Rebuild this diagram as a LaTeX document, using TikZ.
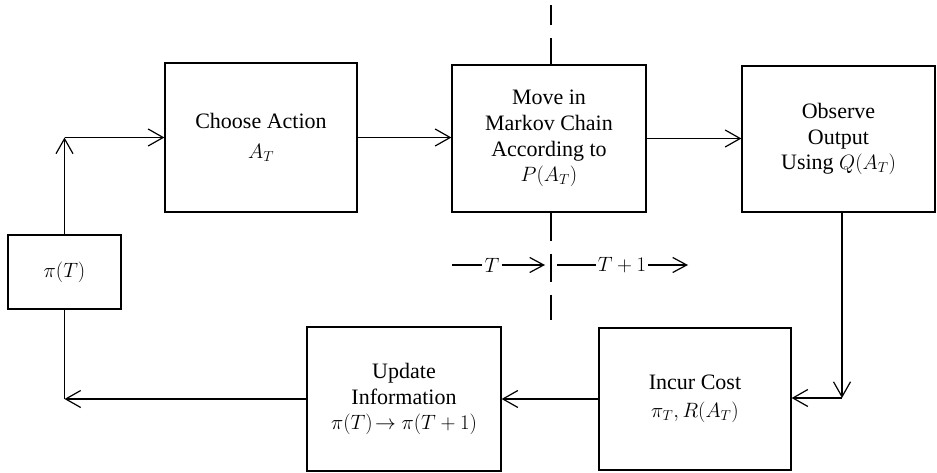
\documentclass[tikz,border=0pt]{standalone}
\usepackage{fontspec}
\setmainfont{Liberation Serif}
\usetikzlibrary{arrows.meta}
\begin{document}
\begin{tikzpicture}[x=1pt,y=-1pt,
  box/.style={draw,line width=1.3pt,align=center,font=\fontsize{22}{25.7}\selectfont,inner sep=0pt},
  con/.style={line width=1.3pt},
  arr/.style={con,-{Straight Barb[length=15pt,width=17pt,line width=1.2pt]}},
  arrs/.style={con,-{Straight Barb[length=14pt,width=15pt,line width=1.2pt]}},
  lbl/.style={font=\fontsize{22}{25}\selectfont,inner sep=2pt}]
\useasboundingbox (0,0) rectangle (937,473);
\node[box,minimum width=192pt,minimum height=149pt] (choose) at (261,137.5) {Choose Action\\[4pt]$A_T$};
\node[box,minimum width=194pt,minimum height=147pt] (move) at (549,138.5) {Move in\\Markov Chain\\According to\\$P(A_T)$};
\node[box,minimum width=193pt,minimum height=146pt] (observe) at (838.5,139) {Observe\\Output\\Using $Q(A_T)$};
\node[box,minimum width=113pt,minimum height=74pt] (pi) at (64.5,272) {$\pi(T)$};
\node[box,minimum width=194pt,minimum height=144pt] (update) at (404,399) {Update\\Information\\$\pi(T)\!\rightarrow\pi(T+1)$};
\node[box,minimum width=192pt,minimum height=142pt] (incur) at (695,399) {Incur Cost\\[2pt]$\pi_T, R(A_T)$};

\coordinate (cTL) at (pi.north |- choose.west);
\draw[arr] (pi.north) -- (cTL);
\draw[arr] (cTL) -- (choose.west);
\draw[arr] (choose.east) -- (choose.east -| move.west);
\draw[arr] (move.east) -- (move.east -| observe.west);
\coordinate (cR) at (842,398);
\draw[arr] (observe.south -| cR) -- (cR);
\draw[arr] (cR) -- (cR -| incur.east);
\draw[arr] (incur.west) -- (incur.west -| update.east);
\coordinate (cBL) at (pi.south |- update.west);
\draw[arr] (update.west) -- (cBL);
\draw[con] (cBL) -- (pi.south);

\coordinate (dTop) at (551,5);
\coordinate (dBot) at (551,320);
\draw[con,dash pattern=on 26pt off 13pt] (move.north -| dTop) -- (dTop);
\draw[con,dash pattern=on 28pt off 13pt] (move.south -| dBot) -- (dBot);

\node[lbl] (tL) at (492,265) {$T$};
\node[lbl] (tR) at (622,265) {$T + 1$};
\coordinate (l0) at (452,265);
\coordinate (l1) at (545,265);
\coordinate (r0) at (557,265);
\coordinate (r1) at (688,265);
\draw[con] (l0) -- (tL.west);
\draw[arrs] (tL.east) -- (l1);
\draw[con] (r0) -- (tR.west);
\draw[arrs] (tR.east) -- (r1);
\end{tikzpicture}
\end{document}
